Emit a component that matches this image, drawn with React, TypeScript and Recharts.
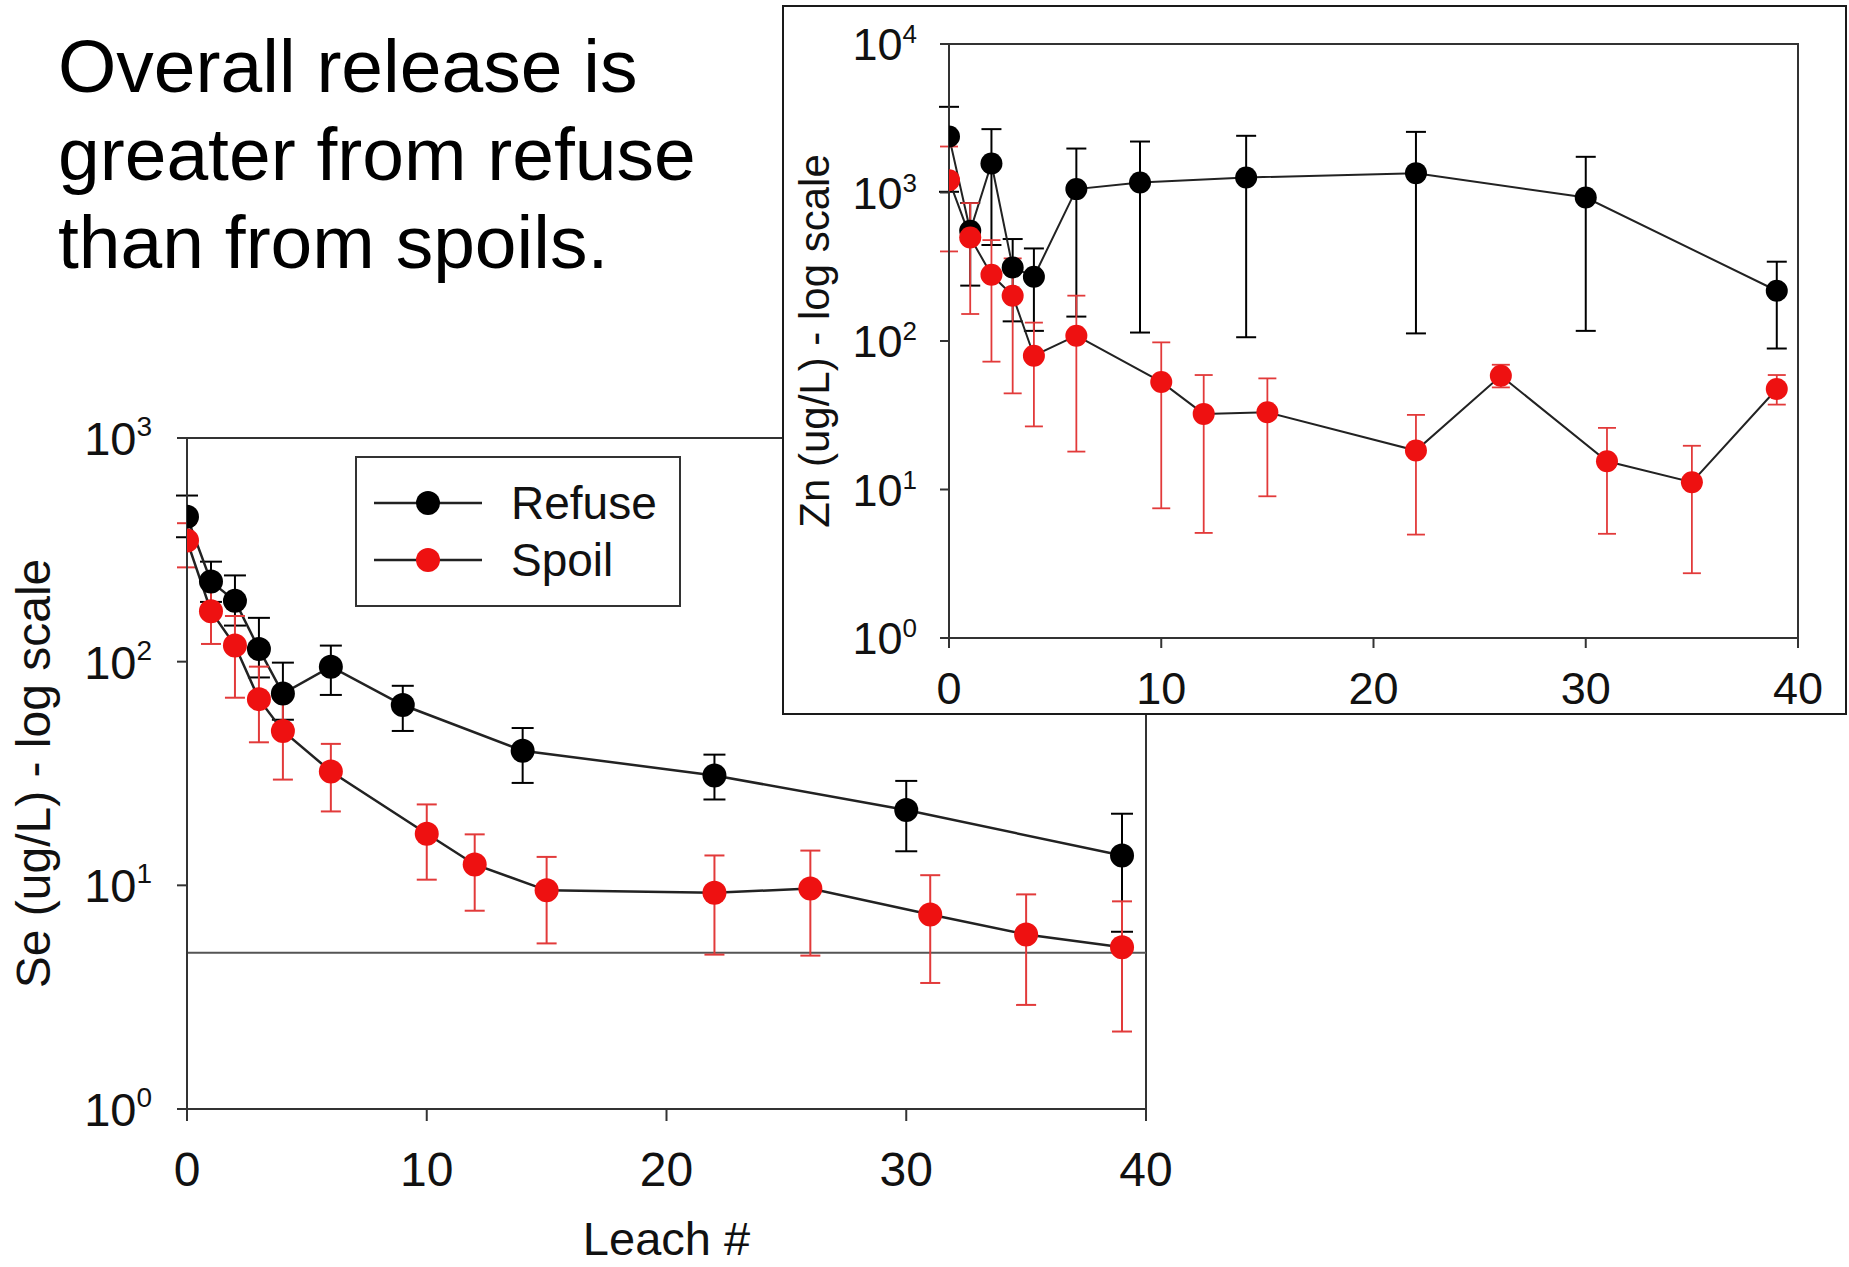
import React from 'react';
import {
  ComposedChart,
  Line,
  XAxis,
  YAxis,
  ErrorBar,
  ReferenceLine,
  ReferenceArea,
  Legend,
} from 'recharts';

const FONT = '"Liberation Sans", Arial, Helvetica, sans-serif';

// ---------- text ----------
const titleLines = ['Overall release is', 'greater from refuse', 'than from spoils.'];
const seriesNames = ['Refuse', 'Spoil'];
const seAxisTitle = 'Se (ug/L) - log scale';
const znAxisTitle = 'Zn (ug/L) - log scale';
const xAxisTitle = 'Leach #';

// ---------- ticks ----------
const xTicks = [0, 10, 20, 30, 40];
const seTicks = [1, 10, 100, 1000];
const znTicks = [1, 10, 100, 1000, 10000];
const seThreshold = 5;

// ---------- Se (main chart) ----------
const seRefuseX = [0, 1, 2, 3, 4, 6, 9, 14, 22, 30, 39];
const seRefuseY = [445, 228, 187, 114, 72, 95, 64, 40, 31, 21.7, 13.6];
const seRefuseHi = [553, 280, 243, 157, 99, 118, 78, 50.5, 38.4, 29.3, 20.9];
const seRefuseLo = [360, 185, 145, 85, 55, 71, 49, 28.7, 24.2, 14.2, 6.2];

const seSpoilX = [0, 1, 2, 3, 4, 6, 10, 12, 15, 22, 26, 31, 35, 39];
const seSpoilY = [348, 168, 118, 68, 49, 32.3, 17, 12.4, 9.5, 9.27, 9.67, 7.41, 6.03, 5.29];
const seSpoilHi = [416, 220, 160, 95, 68, 42.9, 23, 16.9, 13.4, 13.6, 14.3, 11.1, 9.11, 8.48];
const seSpoilLo = [264, 120, 69, 43.6, 29.7, 21.4, 10.6, 7.7, 5.5, 4.9, 4.85, 3.66, 2.92, 2.22];

// ---------- Zn (inset chart) ----------
const znRefuseX = [0, 1, 2, 3, 4, 6, 9, 14, 22, 30, 39];
const znRefuseY = [2382, 552, 1567, 313, 271, 1054, 1167, 1262, 1350, 925, 218];
const znRefuseHi = [3775, 850, 2671, 486, 420, 1977, 2204, 2409, 2560, 1739, 342];
const znRefuseLo = [1011, 236, 443, 135.6, 117, 146, 114, 106, 112.5, 117, 89];

const znSpoilX = [0, 1, 2, 3, 4, 6, 10, 12, 15, 22, 26, 31, 35, 39];
const znSpoilY = [1211, 498, 279, 202, 79.6, 108.6, 53, 32.3, 33.1, 18.3, 58.4, 15.5, 11.2, 47.5];
const znSpoilHi = [2040, 849, 478, 360, 133, 202, 97.9, 59, 56, 31.8, 69.2, 26, 19.7, 59];
const znSpoilLo = [401, 152, 72.6, 44.4, 26.6, 18, 7.47, 5.1, 9.0, 4.97, 48.7, 5.03, 2.73, 37.3];

// ---------- styles ----------
const LINE_COLOR = '#222';
const AXIS_COLOR = '#333';
const REFUSE_COLOR = '#000000';
const SPOIL_COLOR = '#ee1111';
const SPOIL_ERR_COLOR = '#e23a3a';
const markerColors = [REFUSE_COLOR, SPOIL_COLOR];

function buildRows(xs: number[], ys: number[], lo: number[], hi: number[]) {
  return xs.map((x, i) => ({ x, y: ys[i], err: [ys[i] - lo[i], hi[i] - ys[i]] }));
}

const seRefuse = buildRows(seRefuseX, seRefuseY, seRefuseLo, seRefuseHi);
const seSpoil = buildRows(seSpoilX, seSpoilY, seSpoilLo, seSpoilHi);
const znRefuse = buildRows(znRefuseX, znRefuseY, znRefuseLo, znRefuseHi);
const znSpoil = buildRows(znSpoilX, znSpoilY, znSpoilLo, znSpoilHi);

const PowTick = (props: any) => {
  const { x, y, payload, fs, sup, rise } = props;
  const exp = Math.round(Math.log10(payload.value));
  return (
    <text x={x} y={y + fs * 0.36} textAnchor="end" fontFamily={FONT} fontSize={fs} fill="#111">
      10
      <tspan fontSize={sup} dy={-rise}>
        {exp}
      </tspan>
    </text>
  );
};

const NumTick = (props: any) => {
  const { x, y, payload, fs, off } = props;
  return (
    <text x={x} y={y + off} textAnchor="middle" fontFamily={FONT} fontSize={fs} fill="#111">
      {payload.value}
    </text>
  );
};

const VTitle = (props: any) => {
  const { cx, cy, fs, text } = props;
  return (
    <text
      transform={`translate(${cx}, ${cy}) rotate(-90)`}
      textAnchor="middle"
      dominantBaseline="central"
      fontFamily={FONT}
      fontSize={fs}
      fill="#111"
    >
      {text}
    </text>
  );
};

const HTitle = (props: any) => {
  const { cx, cy, fs, text } = props;
  return (
    <text x={cx} y={cy} textAnchor="middle" dominantBaseline="central" fontFamily={FONT} fontSize={fs} fill="#111">
      {text}
    </text>
  );
};

const renderLegend = (props: any) => {
  const payload = props.payload || [];
  return (
    <svg width={326} height={151} style={{ display: 'block' }}>
      <rect x={1} y={1} width={324} height={149} fill="#fff" stroke={AXIS_COLOR} strokeWidth={2} />
      {payload.map((entry: any, i: number) => {
        const cy = 47 + i * 57;
        return (
          <g key={i}>
            <line x1={19} x2={127} y1={cy} y2={cy} stroke={LINE_COLOR} strokeWidth={2.5} />
            <circle cx={73} cy={cy} r={12} fill={markerColors[i]} />
            <text x={156} y={cy} dominantBaseline="central" fontFamily={FONT} fontSize={46} fill="#111">
              {entry.value}
            </text>
          </g>
        );
      })}
    </svg>
  );
};

// main layout constants
const MAIN_W = 1200;
const MAIN_H = 1267;
const MAIN_TOP = 438;
const MAIN_LEFT = 187;
const MAIN_RIGHT = 54;
const MAIN_XH = 158;

// inset layout constants
const INS_LEFT = 782;
const INS_TOP = 5;
const INS_W = 1065;
const INS_H = 710;
const INS_CW = INS_W - 4;
const INS_CH = INS_H - 4;
const INS_EXTRA = 24;
const INS_PLOT_TOP = 37;
const INS_YW = 165;
const INS_RIGHT = 47;
const INS_XH = 75;

export default function App() {
  const mainPlotBottom = MAIN_H - MAIN_XH;
  const insPlotBottom = INS_CH - INS_XH;
  return (
    <div
      style={{
        position: 'absolute',
        left: 0,
        top: 0,
        width: 1849,
        height: 1267,
        background: '#fff',
        overflow: 'hidden',
        fontFamily: FONT,
      }}
    >
      <div
        style={{
          position: 'absolute',
          left: 58,
          top: 22,
          fontSize: 75,
          lineHeight: '88px',
          color: '#000',
          whiteSpace: 'nowrap',
        }}
      >
        {titleLines.map((t, i) => (
          <div key={i}>{t}</div>
        ))}
      </div>

      <div style={{ position: 'absolute', left: 0, top: 0 }}>
        <ComposedChart
          width={MAIN_W}
          height={MAIN_H}
          margin={{ top: MAIN_TOP, right: MAIN_RIGHT, bottom: 0, left: 0 }}
        >
          <XAxis
            type="number"
            dataKey="x"
            domain={[0, 40]}
            ticks={xTicks}
            allowDataOverflow
            height={MAIN_XH}
            tickSize={12}
            tickMargin={0}
            axisLine={{ stroke: AXIS_COLOR, strokeWidth: 2 }}
            tickLine={{ stroke: AXIS_COLOR, strokeWidth: 2 }}
            tick={(p: any) => <NumTick {...p} fs={48} off={65} />}
            label={<HTitle cx={MAIN_LEFT + (MAIN_W - MAIN_RIGHT - MAIN_LEFT) / 2} cy={1238} fs={47} text={xAxisTitle} />}
          />
          <YAxis
            type="number"
            scale="log"
            domain={[1, 1000]}
            ticks={seTicks}
            allowDataOverflow
            width={MAIN_LEFT}
            tickSize={10}
            tickMargin={25}
            axisLine={{ stroke: AXIS_COLOR, strokeWidth: 2 }}
            tickLine={{ stroke: AXIS_COLOR, strokeWidth: 2 }}
            tick={(p: any) => <PowTick {...p} fs={47} sup={28} rise={19} />}
            label={<VTitle cx={33} cy={(MAIN_TOP + mainPlotBottom) / 2} fs={48} text={seAxisTitle} />}
          />
          <ReferenceArea
            x1={0}
            x2={40}
            y1={1}
            y2={1000}
            fill="none"
            fillOpacity={0}
            stroke={AXIS_COLOR}
            strokeWidth={2}
            ifOverflow="visible"
          />
          <ReferenceLine y={seThreshold} stroke="#555" strokeWidth={2} />
          <Legend
            layout="vertical"
            align="center"
            verticalAlign="middle"
            width={326}
            height={151}
            content={renderLegend}
            wrapperStyle={{ left: 355, top: 456, width: 326, height: 151 }}
          />
          <Line
            name={seriesNames[0]}
            data={seRefuse}
            dataKey="y"
            stroke={LINE_COLOR}
            strokeWidth={2.5}
            dot={{ r: 12, fill: REFUSE_COLOR, stroke: 'none', strokeWidth: 0 }}
            activeDot={false}
            isAnimationActive={false}
          >
            <ErrorBar dataKey="err" width={11} stroke={REFUSE_COLOR} strokeWidth={2} direction="y" />
          </Line>
          <Line
            name={seriesNames[1]}
            data={seSpoil}
            dataKey="y"
            stroke={LINE_COLOR}
            strokeWidth={2.5}
            dot={{ r: 12, fill: SPOIL_COLOR, stroke: 'none', strokeWidth: 0 }}
            activeDot={false}
            isAnimationActive={false}
          >
            <ErrorBar dataKey="err" width={10} stroke={SPOIL_ERR_COLOR} strokeWidth={2} direction="y" />
          </Line>
        </ComposedChart>
      </div>

      <div
        style={{
          position: 'absolute',
          left: INS_LEFT,
          top: INS_TOP,
          width: INS_W,
          height: INS_H,
          boxSizing: 'border-box',
          border: '2px solid #1a1a1a',
          background: '#fff',
          overflow: 'visible',
        }}
      >
        <ComposedChart
          width={INS_CW}
          height={INS_CH + INS_EXTRA}
          margin={{ top: INS_PLOT_TOP, right: INS_RIGHT, bottom: 0, left: 0 }}
        >
          <XAxis
            type="number"
            dataKey="x"
            domain={[0, 40]}
            ticks={xTicks}
            allowDataOverflow
            height={INS_XH + INS_EXTRA}
            tickSize={10}
            tickMargin={0}
            axisLine={{ stroke: AXIS_COLOR, strokeWidth: 2 }}
            tickLine={{ stroke: AXIS_COLOR, strokeWidth: 2 }}
            tick={(p: any) => <NumTick {...p} fs={45} off={56} />}
          />
          <YAxis
            type="number"
            scale="log"
            domain={[1, 10000]}
            ticks={znTicks}
            allowDataOverflow
            width={INS_YW}
            tickSize={9}
            tickMargin={23}
            axisLine={{ stroke: AXIS_COLOR, strokeWidth: 2 }}
            tickLine={{ stroke: AXIS_COLOR, strokeWidth: 2 }}
            tick={(p: any) => <PowTick {...p} fs={45} sup={26} rise={17} />}
            label={<VTitle cx={30} cy={(INS_PLOT_TOP + insPlotBottom) / 2} fs={42} text={znAxisTitle} />}
          />
          <ReferenceArea
            x1={0}
            x2={40}
            y1={1}
            y2={10000}
            fill="none"
            fillOpacity={0}
            stroke={AXIS_COLOR}
            strokeWidth={2}
            ifOverflow="visible"
          />
          <Line
            name={seriesNames[0]}
            data={znRefuse}
            dataKey="y"
            stroke={LINE_COLOR}
            strokeWidth={2}
            dot={{ r: 11, fill: REFUSE_COLOR, stroke: 'none', strokeWidth: 0 }}
            activeDot={false}
            isAnimationActive={false}
          >
            <ErrorBar dataKey="err" width={10} stroke={REFUSE_COLOR} strokeWidth={2} direction="y" />
          </Line>
          <Line
            name={seriesNames[1]}
            data={znSpoil}
            dataKey="y"
            stroke={LINE_COLOR}
            strokeWidth={2}
            dot={{ r: 11, fill: SPOIL_COLOR, stroke: 'none', strokeWidth: 0 }}
            activeDot={false}
            isAnimationActive={false}
          >
            <ErrorBar dataKey="err" width={9} stroke={SPOIL_ERR_COLOR} strokeWidth={1.8} direction="y" />
          </Line>
        </ComposedChart>
      </div>
    </div>
  );
}
